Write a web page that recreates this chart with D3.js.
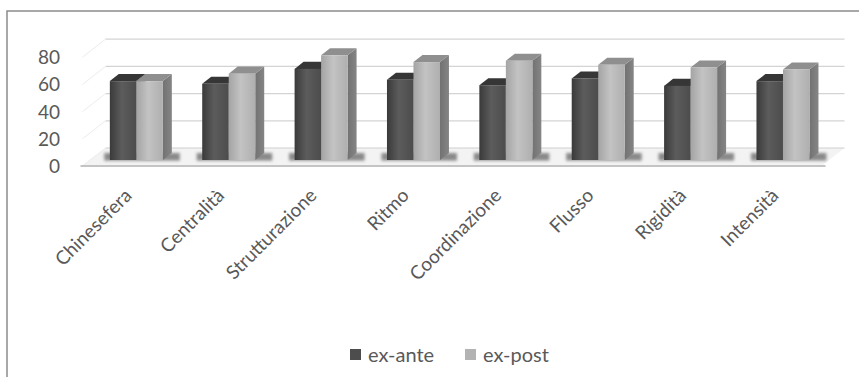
<!DOCTYPE html>
<html>
<head>
<meta charset="utf-8">
<script src="https://cdn.jsdelivr.net/npm/d3@7/dist/d3.min.js"></script>
<style>
  html, body { margin: 0; padding: 0; background: #fff; }
  svg { display: block; }
  text { font-family: Lato, "Open Sans", sans-serif; fill: #595959; }
</style>
</head>
<body>
<svg id="chart" width="859" height="377"></svg>
<script>
// Chart data
const categories = ["Chinesefera", "Centralità", "Strutturazione", "Ritmo",
                    "Coordinazione", "Flusso", "Rigidità", "Intensità"];
const seriesNames = ["ex-ante", "ex-post"];
const exAnte = [58, 56, 67, 59, 55, 60, 54.5, 58];
const exPost = [58, 63.5, 77, 72, 73, 70, 68, 66.5];
const yTicks = [0, 20, 40, 60, 80];

const svg = d3.select("#chart");
const W = 859, H = 377;

// Pseudo-3D projection: depth d in [0,1] shifts right and up
const DEPTH_X = 23, DEPTH_Y = 18;
const x = d3.scaleBand().domain(categories).range([82.5, 821.5])
  .paddingInner(0.426).paddingOuter(0.213);
const xs = d3.scaleBand().domain(seriesNames).range([0, x.bandwidth()]);
const y = d3.scaleLinear().domain([0, 80]).range([166, 57.2]);
const proj = (px, v, d) => [px + d * DEPTH_X, y(v) - d * DEPTH_Y];

const defs = svg.append("defs");
defs.append("filter").attr("id", "soft").attr("x", "-50%").attr("y", "-50%")
  .attr("width", "200%").attr("height", "200%")
  .append("feGaussianBlur").attr("stdDeviation", 1.8);

function hGrad(id, stops) {
  const g = defs.append("linearGradient").attr("id", id)
    .attr("x1", 0).attr("x2", 1).attr("y1", 0).attr("y2", 0);
  stops.forEach(([o, c]) => g.append("stop").attr("offset", o).attr("stop-color", c));
}
hGrad("darkFront", [[0, "#3a3a3a"], [0.45, "#5c5c5c"], [1, "#4c4c4c"]]);
hGrad("lightFront", [[0, "#a4a4a4"], [0.45, "#c3c3c3"], [1, "#afafaf"]]);
hGrad("lightSide", [[0, "#727272"], [1, "#858585"]]);
hGrad("darkSide", [[0, "#333"], [1, "#444"]]);

// Outer frame
svg.append("rect").attr("x", 7).attr("y", 11).attr("width", W).attr("height", H)
  .attr("fill", "none").attr("stroke", "#8c8c8c").attr("stroke-width", 1.5);

const x0 = x.range()[0], x1 = x.range()[1];
const line = d3.line();

// Floor
svg.append("path")
  .attr("d", line([proj(x0, 0, 0), proj(x1, 0, 0), proj(x1, 0, 1), proj(x0, 0, 1)]) + "Z")
  .attr("fill", "#f3f3f3");

// Gridlines on back wall and left side wall
const grid = svg.append("g");
yTicks.forEach(t => {
  grid.append("path")
    .attr("d", line([proj(x0, t, 1), proj(x1, t, 1)]))
    .attr("stroke", t === 0 ? "#cfcfcf" : "#d4d4d4").attr("stroke-width", 1.2).attr("fill", "none");
  grid.append("path")
    .attr("d", line([proj(x0, t, 0), proj(x0, t, 1)]))
    .attr("stroke", "#ececec").attr("stroke-width", 1).attr("fill", "none");
});

// Front edge of floor
svg.append("path")
  .attr("d", line([proj(x0 - 2, 0, 0), proj(x1 + 4, 0, 0)]))
  .attr("stroke", "#c4c4c4").attr("stroke-width", 2.2).attr("fill", "none");

// Bars
const BAR_D0 = 1 / 3, BAR_DD = 0.39;
const values = { "ex-ante": exAnte, "ex-post": exPost };
const style = {
  "ex-ante": { front: "url(#darkFront)", side: "url(#darkSide)", top: "#363636" },
  "ex-post": { front: "url(#lightFront)", side: "url(#lightSide)", top: "#8f8f8f" }
};
const bars = svg.append("g");

categories.forEach((c, i) => {
  const gx = x(c);
  // soft contact shadow under each pair of columns
  const sh0 = proj(gx - 6, 0, BAR_D0 + 0.02), sh1 = proj(gx + x.bandwidth() + 8, 0, BAR_D0 + BAR_DD);
  bars.append("rect")
    .attr("x", sh0[0]).attr("y", sh1[1])
    .attr("width", sh1[0] - sh0[0]).attr("height", sh0[1] - sh1[1] + 1)
    .attr("fill", "#444").attr("opacity", 0.6).attr("filter", "url(#soft)");

  seriesNames.forEach(s => {
    const v = values[s][i];
    const bx = gx + xs(s), bw = xs.bandwidth();
    const st = style[s];
    const fTL = proj(bx, v, BAR_D0), fTR = proj(bx + bw, v, BAR_D0);
    const fBL = proj(bx, 0, BAR_D0), fBR = proj(bx + bw, 0, BAR_D0);
    const bTL = proj(bx, v, BAR_D0 + BAR_DD), bTR = proj(bx + bw, v, BAR_D0 + BAR_DD);
    const bBR = proj(bx + bw, 0, BAR_D0 + BAR_DD);
    // right side
    bars.append("path").attr("d", line([fTR, bTR, bBR, fBR]) + "Z").attr("fill", st.side);
    // top
    bars.append("path").attr("d", line([fTL, fTR, bTR, bTL]) + "Z").attr("fill", st.top);
    // front
    bars.append("rect").attr("x", fTL[0]).attr("y", fTL[1])
      .attr("width", fTR[0] - fTL[0]).attr("height", fBL[1] - fTL[1])
      .attr("fill", st.front);
  });
});

// Value axis labels
const yAxis = d3.axisLeft(y).tickValues(yTicks).tickSize(0).tickPadding(0);
const ya = svg.append("g").attr("transform", "translate(60,0)").call(yAxis);
ya.select(".domain").remove();
ya.selectAll("text").style("font-size", "19px").attr("fill", "#595959")
  .style("font-family", "Lato, 'Open Sans', sans-serif").attr("dy", "0.34em");

// Category labels, rotated
svg.append("g").selectAll("text").data(categories).join("text")
  .attr("transform", d => {
    const cx = proj(x(d) + x.bandwidth() / 2, 0, BAR_D0)[0] - 8;
    return `translate(${cx},${192}) rotate(-45)`;
  })
  .attr("text-anchor", "end")
  .attr("dy", "0.35em")
  .style("font-size", "19px")
  .text(d => d);

// Legend
const legend = svg.append("g").attr("transform", "translate(350,355)");
const legendItems = [
  { name: "ex-ante", color: "#4d4d4d", dx: 0 },
  { name: "ex-post", color: "#b3b3b3", dx: 115 }
];
legendItems.forEach(it => {
  const g = legend.append("g").attr("transform", `translate(${it.dx},0)`);
  g.append("rect").attr("x", 0).attr("y", -6).attr("width", 11).attr("height", 11).attr("fill", it.color);
  g.append("text").attr("x", 18).attr("y", 0).attr("dy", "0.35em")
    .style("font-size", "20px").text(it.name);
});
</script>
</body>
</html>
